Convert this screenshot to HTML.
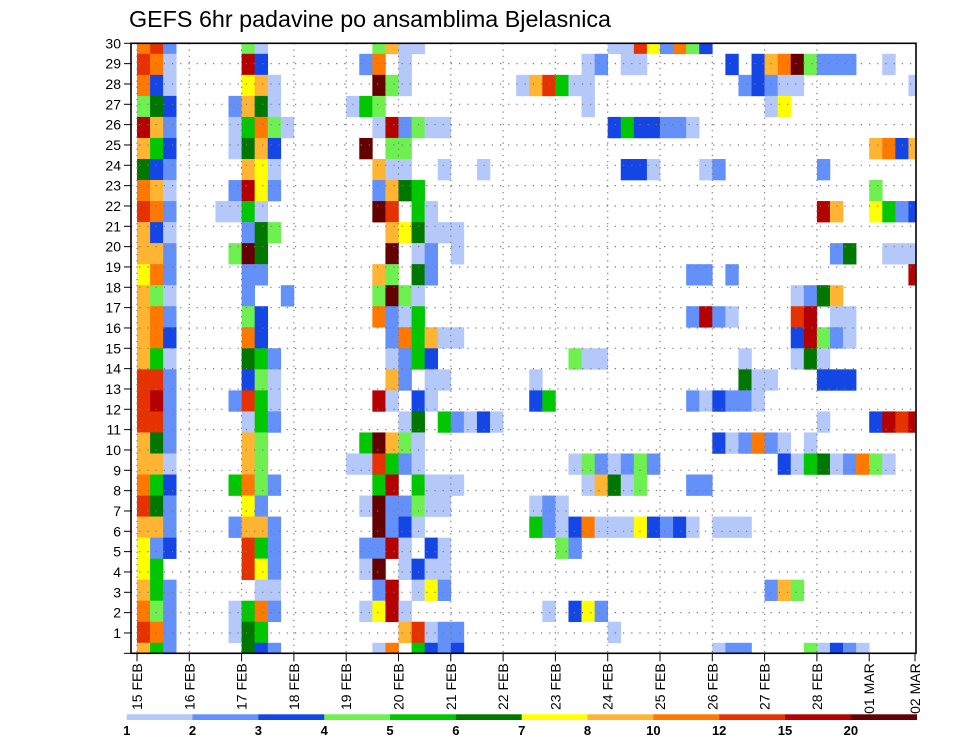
<!DOCTYPE html>
<html><head><meta charset="utf-8"><style>
html,body{margin:0;padding:0;background:#fff;}
svg{display:block;font-family:"Liberation Sans",sans-serif;}
</style></head><body>
<svg id="chart" width="960" height="742" viewBox="0 0 960 742" xmlns="http://www.w3.org/2000/svg">
<text x="129" y="27" font-size="23" textLength="482" lengthAdjust="spacingAndGlyphs">GEFS 6hr padavine po ansamblima Bjelasnica</text>
<g id="cells"></g>
<g id="grid"></g>
<rect x="131" y="43.3" width="785" height="610" fill="none" stroke="#000" stroke-width="1.6"/>
<g id="yaxis"></g>
<g id="xaxis"></g>
<g id="cbar"></g>
</svg>
<script>
// level codes a..l -> precipitation class lower bounds
const levelValues = [1,2,3,4,5,6,7,8,10,12,15,20];
const levelColors = ["#b4c8fa","#6490fa","#1446e6","#6ef050","#00c800","#007800","#ffff00","#ffb432","#ff7800","#e63200","#b40000","#640000"];
const yTickLabels = [30,29,28,27,26,25,24,23,22,21,20,19,18,17,16,15,14,13,12,11,10,9,8,7,6,5,4,3,2,1];
const xTickLabels = ["15 FEB","16 FEB","17 FEB","18 FEB","19 FEB","20 FEB","21 FEB","22 FEB","23 FEB","24 FEB","25 FEB","26 FEB","27 FEB","28 FEB","01 MAR","02 MAR"];
// members (rows top->bottom), each entry "timeStep+levelCode"
const members = [
"0i 1j 2b 8d 9a 18d 19h 20a 21a 36a 37a 38j 39g 40b 41i 42d 43c",
"0j 1i 2a 8k 9c 17b 18i 20a 34a 35b 37a 38a 45c 47c 48h 49i 50l 51d 52b 53b 54b 57a",
"0i 1c 2a 8g 9h 10a 18l 19d 20a 29a 30h 31j 32e 33a 34a 46b 47c 48b 49a 50a 59a",
"0d 1f 2c 7b 8h 9f 10a 16a 17e 18d 34a 48a 49g",
"0k 1h 2b 7a 8e 9i 10d 11a 18a 19k 20b 21d 22a 23a 36c 37e 38c 39c 40b 41b 42a",
"0h 1e 2c 7a 8f 9h 10c 17l 19d 20d 56h 57i 58c 59h",
"0f 1c 2b 8h 9g 10a 18h 19a 20a 23a 26a 37c 38c 39a 43a 44b 52b",
"0i 1h 2a 7b 8k 9g 10b 18b 19h 20f 21e 56d",
"0j 1i 2b 6a 7a 8e 9a 18l 19j 21e 22a 52k 53h 56g 57e 58b 59c",
"0h 1c 2a 8b 9f 10d 19h 20g 21f 22a 23a 24a",
"0h 1h 2b 7d 8l 9f 19l 21a 22b 24a 53b 54f 57a 58a 59a",
"0g 1i 2b 8b 9b 18h 19d 21f 22b 42b 43b 45b 59k",
"0h 1d 2a 8b 11b 18d 19l 20d 21a 50a 51b 52f 53h",
"0h 1i 2b 8d 9c 18i 19b 20a 21e 42b 43k 44b 45a 50j 51k 53a 54a",
"0h 1i 2c 8i 9c 19b 20i 21e 22h 23a 24a 50c 51k 52d 53b 54a",
"0h 1e 2a 8f 9e 10b 19a 20b 21e 22c 33d 34a 35a 46a 50a 51f 52a",
"0j 1j 2b 8c 9d 10a 19h 20b 22a 23a 30a 46f 47a 48a 52c 53c 54c",
"0j 1k 2b 7b 8j 9e 10a 18k 19a 21c 22a 30c 31e 42b 43a 44c 45b 46b 47a",
"0j 1j 2b 8a 9e 10b 20a 21f 23e 24b 25a 26c 27a 52a 56c 57k 58j 59k",
"0h 1f 2b 8h 9d 17e 18l 19h 20d 21a 44c 45a 46b 47i 48b 49a 51a",
"0h 1h 2a 8h 9d 16a 17a 18j 19e 20b 21a 33a 34d 35b 36a 37b 38d 39b 49c 50a 51e 52f 53a 54b 55i 56d 57a",
"0i 1e 2c 7e 8i 9d 10b 18e 19k 21e 22a 23a 24a 34a 35h 36f 37a 38d 42b 43b",
"0j 1f 2b 8g 9b 17a 18l 19b 20b 21d 22a 23a 30a 31b 32a",
"0h 1h 2b 7b 8h 9h 10b 18l 19b 20c 21a 30e 31b 32a 33c 34i 35a 36a 37a 38g 39c 40b 41c 42a 44a 45a 46a",
"0g 1b 2c 8j 9e 10b 17b 18b 19k 20a 22c 23a 32d 33b",
"0g 1e 8j 9g 10b 17a 18l 20a 21c 22a 23a",
"0h 1e 2b 9a 10a 18b 19k 21a 22g 23b 48b 49h 50d",
"0i 1d 2b 7a 8e 9i 10b 17a 18g 19k 20a 31a 33c 34g 35b",
"0j 1i 2b 7a 8f 9e 20h 21j 22a 23b 24b 36a",
"0h 1e 2b 8f 9c 10b 18a 19i 21e 22c 23b 24c 44a 45b 46b 51d 52a 53c 54b 55a"
];
const NS="http://www.w3.org/2000/svg";
const L=131,R=916,T=43.3,B=653.3;
const day0=137, dayW=52.3, stepW=dayW/4;
const rowH=(B-T)/29;
function xStep(i){return day0+i*stepW;}
function yMember(j){return T+j*rowH-rowH/2;}
function yTick(k){return T+(30-k)*(B-T)/30;}
function mk(tag,attrs,parent){const e=document.createElementNS(NS,tag);for(const k in attrs)e.setAttribute(k,attrs[k]);parent.appendChild(e);return e;}
const cells=document.getElementById('cells');
members.forEach((row,j)=>{
  row.split(' ').forEach(tok=>{
    const t=parseInt(tok,10), code=tok.charCodeAt(tok.length-1)-97;
    let x0=xStep(t), x1=xStep(t+1), y0=yMember(j), y1=y0+rowH;
    x0=Math.max(x0,L); x1=Math.min(x1,R); y0=Math.max(y0,T); y1=Math.min(y1,B);
    if(x1<=x0||y1<=y0) return;
    const r=mk('rect',{x:x0,y:y0,width:x1-x0+0.3,height:y1-y0+0.3,fill:levelColors[code]},cells);
    
    
  });
});
const grid=document.getElementById('grid');
for(let k=1;k<30;k++){
  const l=mk('line',{x1:L,x2:R,y1:yTick(k),y2:yTick(k),stroke:'#777','stroke-width':1.2,'stroke-dasharray':'1.2 7'},grid);
  
  
}
for(let d=0;d<14;d++){
  const x=day0+d*dayW; if(x<=L+1) continue;
  const l=mk('line',{x1:x,x2:x,y1:T,y2:B,stroke:'#777','stroke-width':1.2,'stroke-dasharray':'1.2 5'},grid);
  
  
}
const ya=document.getElementById('yaxis');
for(let k=0;k<=30;k++){
  const y=yTick(k);
  const tk=mk('line',{x1:124,x2:L,y1:y,y2:y,stroke:'#000','stroke-width':1},ya);
  
  
}
yTickLabels.forEach(v=>{
  const t=mk('text',{x:121,y:yTick(v)+5,'font-size':14,'text-anchor':'end'},ya);
  t.textContent=v;
  
  
});
const xa=document.getElementById('xaxis');
xTickLabels.forEach((lab,d)=>{
  let x=day0+d*dayW; if(x>R) x=R-1;
  const tk=mk('line',{x1:x,x2:x,y1:B,y2:B+8,stroke:'#000','stroke-width':1},xa);
  
  
  const t=mk('text',{x:0,y:0,'font-size':14,'text-anchor':'end',transform:'translate('+(x+5)+','+(B+10)+') rotate(-90)'},xa);
  t.textContent=lab;
  
  
});
const cb=document.getElementById('cbar');
const cbL=126.7, cbR=916.7, cbW=(cbR-cbL)/levelColors.length;
levelColors.forEach((c,i)=>{
  const r=mk('rect',{x:cbL+i*cbW,y:714.3,width:cbW+0.3,height:5.7,fill:c},cb);
  
  
});
levelValues.forEach((v,i)=>{
  const t=mk('text',{x:cbL+i*cbW,y:735,'font-size':13,'font-weight':'bold','text-anchor':'middle'},cb);
  t.textContent=v;
  
  
});
</script>
</body></html>
